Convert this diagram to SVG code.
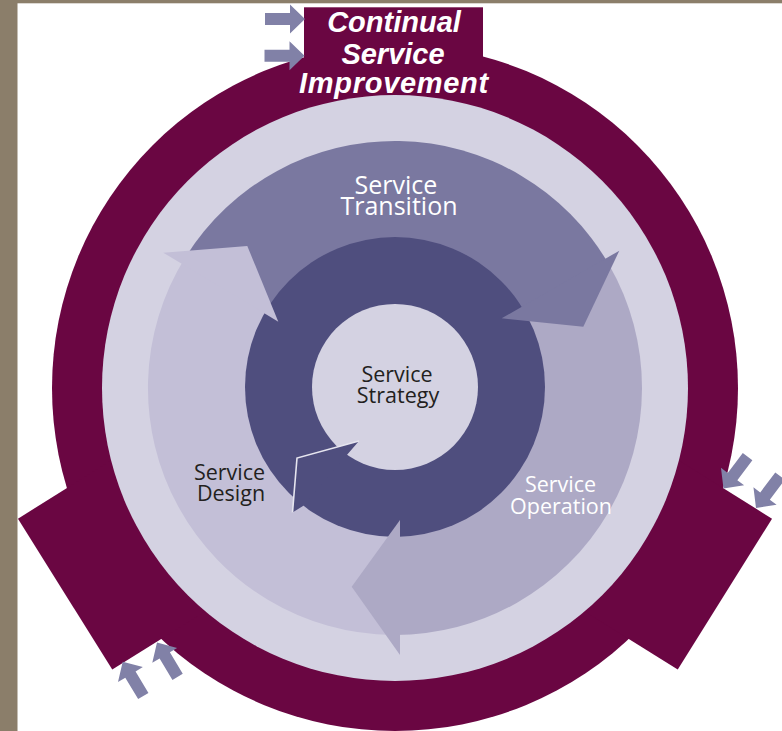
<svg xmlns="http://www.w3.org/2000/svg" width="782" height="731" viewBox="0 0 782 731">
<defs>
<style>
.maroon{fill:#6A0642}
.light{fill:#D4D2E2}
.lbl{font-family:"Open Sans","Noto Sans",sans-serif;font-size:21.5px;text-anchor:middle}
.ptr{fill:#8181A7}
</style>
<path id="ptr" d="M0,0 L-15,-14.5 L-15,-6 L-40,-6 L-40,6 L-15,6 L-15,14.5 Z"/>
</defs>
<rect x="0" y="0" width="782" height="731" fill="#FFFFFF"/>
<rect x="0" y="0" width="17.5" height="731" fill="#8B7E6A"/>
<rect x="0" y="0" width="782" height="3.3" fill="#8B7E6A"/>

<g id="continual-service-improvement">
<circle class="maroon" cx="395" cy="388" r="343"/>
<rect class="maroon" x="304" y="7.3" width="179" height="90"/>
<rect class="maroon" x="250" y="-89" width="139" height="178" transform="translate(395,388) rotate(148)"/>
<rect class="maroon" x="250" y="-89" width="139" height="178" transform="translate(395,388) rotate(32)"/>
<circle class="light" cx="395" cy="388" r="293"/>
<text font-family="'Liberation Sans',Arial,sans-serif" font-weight="bold" font-style="italic" font-size="29" fill="#FFFFFF" text-anchor="middle"><tspan x="394" y="32.3">Continual</tspan><tspan x="393" y="64">Service</tspan><tspan x="394" y="92.5" letter-spacing="0.7">Improvement</tspan></text>
</g>

<g id="service-transition">
<path fill="#7A78A0" d="M395,388 L185.5,257.1 A247,247 0 0 1 608.9,264.5 Z"/>
</g>
<g id="service-operation">
<path fill="#ADA9C5" d="M395,388 L608.9,264.5 A247,247 0 0 1 392.8,634.99 Z"/>
</g>
<g id="service-design">
<path fill="#C3BFD7" d="M395,388 L392.8,634.99 A247,247 0 0 1 185.5,257.1 Z"/>
</g>

<g id="service-strategy">
<circle cx="395" cy="387" r="150" fill="#4F4E7E"/>
<circle class="light" cx="395" cy="387" r="83"/>
<polygon fill="#4F4E7E" points="359,441 297,458 292.5,512.5 303,506 346,456"/>
<polyline fill="none" stroke="#E6E5EF" stroke-width="1.6" stroke-linejoin="miter" points="359,441 297,458 292.5,512.5"/>
<text class="lbl" fill="#231F20"><tspan x="397" y="381.5">Service</tspan><tspan x="398" y="403">Strategy</tspan></text>
</g>

<g id="arrow-heads">
<polygon fill="#7A78A0" points="619.3,250.7 583.3,326.7 501.7,318.3"/>
<polygon fill="#ADA9C5" points="400,520 351.7,586.7 400,655"/>
<polygon fill="#C3BFD7" points="163.3,252.7 247.3,246 278.3,321.7"/>
</g>

<g id="labels">
<text font-family="'Open Sans','Noto Sans',sans-serif" font-size="25" text-anchor="middle" fill="#FFFFFF"><tspan x="396" y="193.5">Service</tspan><tspan x="399" y="215">Transition</tspan></text>
<text class="lbl" fill="#FFFFFF"><tspan x="560.5" y="491.7">Service</tspan><tspan x="561" y="514.3">Operation</tspan></text>
<text class="lbl" fill="#231F20"><tspan x="229.5" y="480">Service</tspan><tspan x="231" y="500.7">Design</tspan></text>
</g>

<g id="connectors" class="ptr">
<use href="#ptr" transform="translate(305,19)"/>
<use href="#ptr" transform="translate(304.5,55.7)"/>
<use href="#ptr" transform="translate(122.7,661.7) rotate(239)"/>
<use href="#ptr" transform="translate(157,642.5) rotate(239)"/>
<use href="#ptr" transform="translate(723.5,488.5) rotate(127)"/>
<use href="#ptr" transform="translate(756,508) rotate(127)"/>
</g>
</svg>
